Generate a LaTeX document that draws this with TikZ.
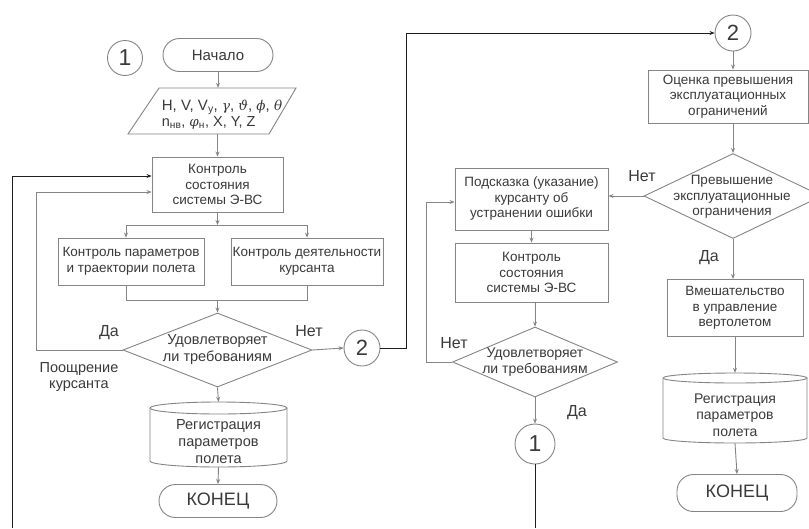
\documentclass[tikz,border=0pt]{standalone}
\usepackage{fontspec}
\setmainfont{Liberation Sans}
\newfontfamily\grk{DejaVu Serif}
\usetikzlibrary{shapes.geometric,arrows.meta}
\definecolor{lnc}{HTML}{858585}
\definecolor{txc}{HTML}{3A3A3A}
\definecolor{blc}{HTML}{1E1E1E}
\begin{document}
\begin{tikzpicture}[x=1pt,y=-1pt,
  every node/.style={text=txc, font=\fontsize{13.5}{15.5}\selectfont, inner sep=0pt, align=center},
  box/.style={draw=lnc, line width=0.9pt, rectangle},
  term/.style={draw=lnc, line width=0.9pt, rectangle, rounded corners=16.5pt, font=\fontsize{18}{20}\selectfont},
  dec/.style={draw=lnc, line width=0.9pt, diamond},
  conn/.style={draw=lnc, line width=0.9pt, circle, font=\fontsize{23}{23}\selectfont},
  ln/.style={draw=lnc, line width=0.9pt},
  ar/.style={draw=lnc, line width=0.9pt, -{Stealth[length=5pt,width=4pt]}},
  blk/.style={draw=blc, line width=1pt},
  blkar/.style={draw=blc, line width=1pt, -{Stealth[length=5pt,width=4pt]}},
  lbl/.style={font=\fontsize{16}{18}\selectfont},
  shp/.style={draw=lnc, line width=0.9pt},
]
\useasboundingbox[fill=white] (0,0) rectangle (809,528);

% ---------- left column ----------
\node[conn, minimum size=35] (c1a) at (125,58) {1};
\node[term, minimum width=110, minimum height=33, font=\fontsize{15}{17}\selectfont] (start) at (218,55) {Начало};

\draw[shp] (159,88) -- (296,88) -- (269,134) -- (128,134) -- cycle;
\node[minimum width=140, minimum height=46] (io) at (213,111) {};
\node[align=left] (iot) at (222,114.5)
  {{\fontsize{15}{17}\selectfont H, V, V\textsubscript{y}, {\fontsize{13.5}{17}\grk\itshape γ}, {\fontsize{13.5}{17}\grk\itshape ϑ}, {\fontsize{13.5}{17}\grk\itshape ϕ}, {\fontsize{13.5}{17}\grk\itshape θ}}\\[1pt]
   {\fontsize{14.5}{17}\selectfont n\textsubscript{нв}, {\fontsize{13.5}{17}\grk\itshape φ}\textsubscript{н}, X, Y, Z}};

\node[box, minimum width=131, minimum height=55] (ctrl1) at (217.5,184.5) {Контроль\\состояния\\системы Э-ВС};
\node[box, minimum width=146, minimum height=47] (p1) at (131,261.5) {Контроль параметров\\и траектории полета};
\node[box, minimum width=152, minimum height=47] (p2) at (307,261.5) {Контроль деятельности\\курсанта};
\node[dec, minimum width=189, minimum height=74] (d1) at (217.5,350) {};
\node[font=\fontsize{14.5}{17}\selectfont] (d1t) at (217.5,350) {Удовлетворяет\\ли требованиям};
\node[conn, minimum size=36, font=\fontsize{22}{22}\selectfont] (c2a) at (362,348) {2};

\draw[shp] (150,408) arc[start angle=180, end angle=-180, x radius=68.5pt, y radius=6pt];
\draw[shp] (150,408) -- (150,461) arc[start angle=180, end angle=360, x radius=68.5pt, y radius=6pt] -- (287,408);
\node[minimum width=137, minimum height=65] (cyl1) at (218.5,434.5) {};
\node[font=\fontsize{14.5}{17}\selectfont] (cyl1t) at (218.5,442) {Регистрация\\параметров\\полета};

\node[term, minimum width=118, minimum height=33] (end1) at (218,501) {КОНЕЦ};

\node[lbl] (da1) at (109,333) {Да};
\node[lbl] (net1) at (309,331) {Нет};
\node[font=\fontsize{14.5}{16}\selectfont] (poo) at (79,377) {Поощрение\\курсанта};

\coordinate (spl) at (126,225);
\coordinate (spr) at (307,225);
\coordinate (mgl) at (126,300);
\coordinate (mgr) at (307,300);
\coordinate (yb) at (36,192);
\coordinate (ob) at (12,528);
\coordinate (ot) at (12,176);
\coordinate (tp) at (406,33);

\draw[ar] (start.south) -- (start.south |- io.north);
\draw[ar] (io.south -| ctrl1.north) -- (ctrl1.north);
\draw[ar] (ctrl1.south) -- (ctrl1.south |- spl);
\draw[ln] (spl) -- (spr);
\draw[ar] (spl) -- (spl |- p1.north);
\draw[ar] (spr) -- (spr |- p2.north);
\draw[ln] (spl |- p1.south) -- (mgl) -- (mgr) -- (spr |- p2.south);
\draw[ar] (mgl -| d1.north) -- (d1.north);
\draw[ar] (d1.west) -| (yb) -- (yb -| ctrl1.west);
\draw[blkar] (ob) -- (ot) -- (ot -| ctrl1.west);
\draw[ar] (d1.east) -- (c2a.west);
\draw[ar] (d1.south) -- (cyl1.north);
\draw[ar] (cyl1.south) -- (end1.north);

% ---------- right part ----------
\node[conn, minimum size=36, font=\fontsize{22}{22}\selectfont] (c2b) at (733,33) {2};
\node[box, minimum width=160, minimum height=53] (eval) at (728,96.5) {Оценка превышения\\эксплуатационных\\ограничений};
\node[dec, minimum width=178, minimum height=85] (d2) at (733,196) {};
\node (d2t) at (732,197) {Превышение\\эксплуатационные\\ограничения};
\node[box, minimum width=153, minimum height=62] (hint) at (531.5,199) {Подсказка (указание)\\курсанту об\\устранении ошибки};
\node[box, minimum width=153, minimum height=59] (ctrl2) at (531.5,272.5) {Контроль\\состояния\\системы Э-ВС};
\node[dec, minimum width=165, minimum height=70] (d3) at (535,362) {};
\node[font=\fontsize{14}{16.5}\selectfont] (d3t) at (535,362) {Удовлетворяет\\ли требованиям};
\node[conn, minimum size=40] (c1b) at (535,444) {1};

\node[box, minimum width=136, minimum height=57] (interv) at (735,308) {Вмешательство\\в управление\\вертолетом};

\draw[shp] (663,378) arc[start angle=180, end angle=-180, x radius=72pt, y radius=5pt];
\draw[shp] (663,378) -- (663,438) arc[start angle=180, end angle=360, x radius=72pt, y radius=5pt] -- (807,378);
\node[minimum width=144, minimum height=70] (cyl2) at (735,408) {};
\node[font=\fontsize{14}{16.5}\selectfont] (cyl2t) at (735,415) {Регистрация\\параметров\\полета};

\node[term, minimum width=120, minimum height=37] (end2) at (737,493) {КОНЕЦ};

\node[lbl] (net2) at (642,176) {Нет};
\node[lbl] (da2) at (709,258) {Да};
\node[lbl] (net3) at (454,343) {Нет};
\node[lbl] (da3) at (577,413) {Да};

\coordinate (lb) at (426,202);
\coordinate (ib) at (535,528);

\draw[blkar] (c2a.east) -| (tp) -- (c2b.west);
\draw[ar] (c2b.south) -- (c2b.south |- eval.north);
\draw[ar] (eval.south -| d2.north) -- (d2.north);
\draw[ar] (d2.west) -- (d2.west -| hint.east);
\draw[ar] (hint.south) -- (ctrl2.north);
\draw[ar] (ctrl2.south -| d3.north) -- (d3.north);
\draw[ar] (d3.west) -| (lb) -- (lb -| hint.west);
\draw[ar] (d3.south) -- (c1b.north);
\draw[blk] (c1b.south) -- (ib);
\draw[ar] (d2.south) -- (d2.south |- interv.north);
\draw[ar] (interv.south) -- (cyl2.north);
\draw[ar] (cyl2.south) -- (end2.north);
\end{tikzpicture}
\end{document}
